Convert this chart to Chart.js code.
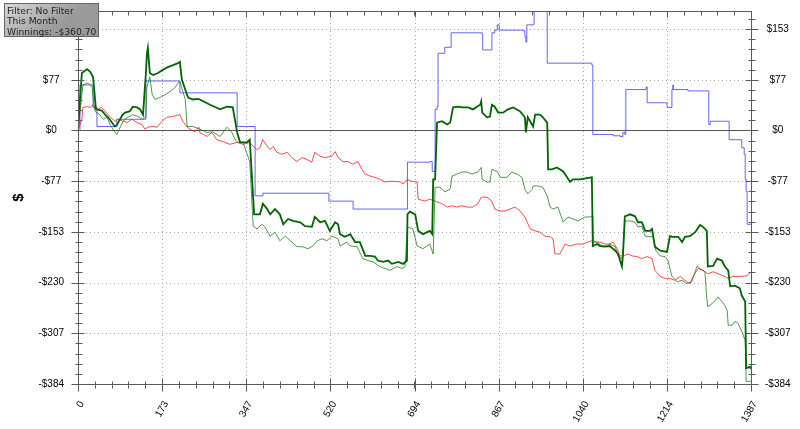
<!DOCTYPE html>
<html>
<head>
<meta charset="utf-8">
<title>Winnings graph</title>
<script src="https://cdn.jsdelivr.net/npm/chart.js@4.4.0/dist/chart.umd.min.js"></script>
<style>
  html, body { margin: 0; padding: 0; background: #fff; }
  #wrap { width: 800px; height: 429px; }
</style>
</head>
<body>
<div id="wrap"><canvas id="graph" width="800" height="429"></canvas></div>
<script>
// Hands played vs. $ won
const winHands = [0,4,8,19,25,31,33,37,49,56,62,70,76,80,91,97,107,113,122,128,134,140,142,144,148,155,165,175,185,196,
  206,210,214,221,227,237,247,251,272,293,307,319,328,334,348,354,363,375,381,390,396,406,416,423,433,443,458,468,482,488,
  499,509,519,530,536,540,550,561,571,581,592,602,612,618,629,639,647,660,670,678,679,684,695,701,711,725,730,732,736,740,
  750,761,767,773,783,793,804,814,829,831,833,843,849,853,859,866,876,886,897,911,921,923,927,938,942,952,958,967,969,977,
  987,1000,1008,1014,1020,1035,1049,1059,1061,1070,1076,1086,1096,1107,1113,1121,1123,1127,1138,1148,1154,1162,1169,1179,1183,1189,1200,1214,1220,1226,
  1237,1245,1251,1261,1272,1282,1288,1296,1298,1309,1317,1327,1333,1340,1344,1354,1364,1368,1375,1377,1385,1387];
const winValues = [0,45,87,93,89,81,65,32,30,24,20,12,6,8,23,27,29,36,35,32,24,87,116,125,87,84,87,92,96,99,
  102,104,77,62,50,47,48,47,39,32,36,35,-3,-18,-18,-14,-127,-127,-111,-119,-127,-119,-127,-142,-134,-137,-139,-145,-146,-131,
  -139,-137,-152,-139,-142,-157,-161,-157,-169,-169,-190,-190,-191,-197,-199,-197,-202,-199,-202,-197,-127,-123,-127,-152,-157,-152,-157,-74,-74,12,
  14,9,12,35,36,35,35,32,39,44,27,20,21,39,36,27,27,32,35,29,20,-3,20,6,24,24,20,12,-59,-59,
  -56,-62,-71,-78,-74,-74,-72,-71,-175,-172,-175,-176,-175,-182,-187,-206,-190,-130,-127,-130,-139,-139,-152,-152,-149,-176,-182,-184,-160,-161,
  -161,-169,-161,-160,-154,-143,-146,-152,-206,-205,-194,-197,-206,-212,-236,-235,-239,-250,-259,-360,-358,-361];

const thinGreenHands = [0,10,21,29,31,35,45,52,60,66,72,80,87,93,103,113,124,132,140,142,148,153,159,169,179,190,200,206,210,221,
  225,237,251,266,278,293,307,317,324,330,340,354,361,369,379,385,396,406,416,427,441,451,462,474,484,493,503,513,523,536,
  540,554,561,575,587,598,608,622,633,643,657,668,674,679,690,699,711,725,732,736,746,756,767,771,781,791,802,812,824,831,
  833,843,849,853,864,870,884,894,905,915,921,927,936,938,948,958,967,973,979,989,1000,1010,1020,1030,1045,1055,1061,1062,1070,1080,
  1090,1096,1107,1113,1121,1123,1127,1138,1148,1154,1162,1169,1179,1185,1191,1200,1210,1216,1224,1235,1245,1255,1265,1276,1282,1292,1296,1298,1307,1313,
  1319,1327,1333,1338,1340,1348,1354,1360,1368,1375,1377,1387];
const thinGreenValues = [0,69,72,66,51,29,24,17,20,9,2,-6,5,14,20,24,21,17,21,66,81,54,47,50,54,59,65,72,74,47,
  6,6,2,-3,-2,-9,5,-3,-14,-18,-18,-47,-145,-149,-142,-146,-160,-154,-167,-160,-169,-176,-176,-179,-175,-167,-164,-167,-160,-164,
  -175,-169,-175,-176,-194,-197,-199,-206,-209,-212,-206,-209,-206,-146,-149,-175,-179,-172,-187,-86,-86,-93,-89,-69,-66,-63,-63,-66,-63,-56,
  -74,-78,-78,-59,-62,-71,-71,-63,-66,-71,-89,-96,-89,-84,-84,-86,-99,-116,-119,-116,-139,-131,-134,-137,-131,-131,-130,-169,-169,-175,
  -175,-172,-176,-190,-194,-190,-137,-137,-139,-146,-145,-160,-161,-160,-182,-190,-191,-197,-221,-229,-227,-232,-229,-205,-209,-214,-255,-267,-262,-258,
  -252,-259,-265,-273,-295,-295,-289,-292,-304,-318,-380,-380];

const redHands = [0,8,10,19,25,31,39,49,56,66,76,82,93,101,111,122,132,138,144,153,163,173,183,194,204,210,216,225,231,241,
  249,251,266,276,286,299,313,328,340,354,361,369,375,381,390,396,402,410,420,431,441,451,462,472,482,488,499,509,523,530,
  536,546,556,567,577,585,592,602,612,622,633,643,653,664,670,678,688,699,701,715,725,736,750,761,771,781,791,802,814,824,
  831,843,853,859,870,880,890,901,911,921,932,942,952,962,973,979,983,993,1004,1014,1028,1041,1051,1059,1066,1076,1086,1096,1103,1111,
  1117,1123,1134,1142,1152,1162,1173,1183,1189,1200,1210,1220,1230,1241,1251,1261,1268,1278,1288,1298,1309,1319,1329,1340,1350,1364,1379,1387];
const redValues = [0,17,35,36,35,39,32,35,29,21,14,17,14,12,17,12,9,2,5,6,5,14,20,21,23,24,14,5,2,-2,
  5,-3,-9,-3,-14,-17,-21,-18,-21,-18,-24,-29,-26,-14,-24,-29,-24,-33,-36,-33,-41,-47,-41,-44,-48,-33,-39,-41,-39,-32,
  -41,-47,-47,-51,-47,-59,-66,-69,-71,-74,-78,-77,-77,-78,-81,-74,-77,-78,-104,-107,-104,-107,-111,-116,-114,-116,-114,-116,-116,-111,
  -101,-101,-107,-119,-122,-122,-119,-116,-122,-131,-149,-152,-154,-160,-161,-164,-187,-187,-172,-175,-172,-172,-169,-167,-169,-169,-172,-172,-169,-179,
  -190,-190,-187,-190,-191,-194,-191,-194,-212,-221,-224,-224,-227,-221,-227,-232,-221,-209,-212,-217,-214,-217,-220,-224,-221,-221,-220,-214];

// blue line is a step line: each value holds from its hand until the next one
const blueHands = [0,4,31,39,80,140,210,328,365,381,517,567,679,725,730,736,740,742,756,769,
  833,834,853,859,864,868,917,921,923,925,938,940,967,1059,1061,1103,1117,1123,1127,1129,
  1171,1173,1214,1224,1226,1227,1257,1300,1303,1342,1368,1373,1375,1377,1379,1387];
const blueValues = [0,69,35,6,17,75,57,6,-99,-95,-107,-119,-48,-47,-62,32,36,117,126,148,
  145,122,148,152,160,152,151,142,134,160,161,200,102,99,-6,-8,-9,-3,-6,62,
  66,42,35,62,69,62,60,9,14,-14,-26,-36,-74,-92,-142,-142];

// axes
const xTicks = [0, 173.375, 346.75, 520.125, 693.5, 866.875, 1040.25, 1213.625, 1387];
const xTickLabels = ['0', '173', '347', '520', '694', '867', '1040', '1214', '1387'];
const yTicks = [-384, -307.2, -230.4, -153.6, -76.8, 0, 76.8, 153.6];
const yTickLabels = ['-$384', '-$307', '-$230', '-$153', '-$77', '$0', '$77', '$153'];
const Y_MIN = -384;
const Y_MAX = 181;
const infoLines = ['Filter: No Filter', 'This Month', 'Winnings: -$360.70'];

const LABEL_FONT = { family: 'Liberation Sans, Arial, sans-serif', size: 10 };
const AXIS_COLOR = '#5a5a5a';

function toPoints(hands, values) {
  return hands.map((h, i) => ({ x: h, y: values[i] }));
}

function hline(ctx, x1, x2, y) {
  ctx.beginPath(); ctx.moveTo(x1, y); ctx.lineTo(x2, y); ctx.stroke();
}
function vline(ctx, x, y1, y2) {
  ctx.beginPath(); ctx.moveTo(x, y1); ctx.lineTo(x, y2); ctx.stroke();
}

// minor positions: 5 steps between major ticks, carried on to the scale ends
function minorValues(majors, min, max) {
  const step = (majors[1] - majors[0]) / 5;
  const out = [];
  for (let v = majors[0]; v <= max + 0.001; v += step) out.push(v);
  for (let v = majors[0] - step; v >= min - 0.001; v -= step) out.push(v);
  return out;
}

// grid, frame and tick marks drawn against the chart's own scales
const framePlugin = {
  id: 'frame',
  beforeDatasetsDraw(chart) {
    const { ctx, chartArea: a, scales } = chart;
    ctx.save();
    ctx.lineWidth = 1;
    ctx.strokeStyle = '#a8a8a8';
    ctx.setLineDash([1, 3]);
    xTicks.forEach(v => {
      const px = Math.round(scales.x.getPixelForValue(v)) + 0.5;
      vline(ctx, px, a.top, a.bottom);
    });
    yTicks.forEach(v => {
      const py = Math.round(scales.y.getPixelForValue(v)) + 0.5;
      hline(ctx, a.left, a.right, py);
    });
    ctx.setLineDash([]);
    ctx.strokeStyle = '#555';
    const zy = Math.round(scales.y.getPixelForValue(0)) + 0.5;
    hline(ctx, a.left, a.right, zy);
    ctx.restore();
  },
  afterDatasetsDraw(chart) {
    const { ctx, chartArea: a, scales } = chart;
    const L = Math.round(a.left) + 0.5, R = Math.round(a.right) + 0.5;
    const T = Math.round(a.top) + 0.5, B = Math.round(a.bottom) + 0.5;
    ctx.save();
    ctx.lineWidth = 1;
    ctx.strokeStyle = AXIS_COLOR;
    ctx.strokeRect(L, T, R - L, B - T);

    const xMinor = minorValues(xTicks, 0, 1387);
    xMinor.forEach(v => {
      const px = Math.round(scales.x.getPixelForValue(v)) + 0.5;
      vline(ctx, px, B - 3, B + 4);
      vline(ctx, px, T, T + 4);
    });
    xTicks.forEach(v => {
      const px = Math.round(scales.x.getPixelForValue(v)) + 0.5;
      vline(ctx, px, B - 6, B + 7);
      vline(ctx, px, T, T + 6);
    });

    const yMinor = minorValues(yTicks, Y_MIN, Y_MAX);
    yMinor.forEach(v => {
      const py = Math.round(scales.y.getPixelForValue(v)) + 0.5;
      hline(ctx, L - 3, L + 4, py);
      hline(ctx, R - 3, R + 4, py);
    });
    yTicks.forEach(v => {
      const py = Math.round(scales.y.getPixelForValue(v)) + 0.5;
      hline(ctx, L - 7, L + 6, py);
      hline(ctx, R - 6, R + 7, py);
    });
    ctx.restore();
  },
  afterDraw(chart) {
    // filter / winnings info box in the top-left corner
    const { ctx } = chart;
    const bx = 4.5, by = 3.5, bw = 94, bh = 33;
    ctx.save();
    const g = ctx.createLinearGradient(bx, by, bx + bw * 0.3, by + bh * 1.2);
    g.addColorStop(0, '#dadada');
    g.addColorStop(1, '#9a9a9a');
    ctx.fillStyle = g;
    ctx.fillRect(bx, by, bw, bh);
    ctx.strokeStyle = '#666';
    ctx.lineWidth = 1;
    ctx.strokeRect(bx, by, bw, bh);
    ctx.fillStyle = '#222';
    ctx.font = '9.2px "DejaVu Sans", Verdana, sans-serif';
    ctx.textAlign = 'left';
    ctx.textBaseline = 'alphabetic';
    infoLines.forEach((t, i) => ctx.fillText(t, 7, 13.5 + i * 10.5));
    ctx.restore();
  }
};

function yScale(position, withTitle) {
  return {
    type: 'linear',
    position: position,
    min: Y_MIN,
    max: Y_MAX,
    afterBuildTicks: scale => { scale.ticks = yTicks.map(v => ({ value: v })); },
    afterFit: scale => {
      scale.width = position === 'left' ? 78 : 49;
      scale.paddingTop = 0;
      scale.paddingBottom = 0;
    },
    grid: { display: false, drawTicks: false },
    border: { display: false },
    title: {
      display: withTitle,
      text: '$',
      color: '#000',
      font: { family: 'Liberation Sans, Arial, sans-serif', size: 15, weight: 'bold' },
      padding: { top: 10, bottom: 0 }
    },
    ticks: {
      autoSkip: false,
      crossAlign: 'center',
      padding: 14,
      color: '#000',
      font: LABEL_FONT,
      callback: (value, index) => yTickLabels[index]
    }
  };
}

new Chart(document.getElementById('graph'), {
  type: 'line',
  data: {
    datasets: [
      {
        label: 'Winnings',
        data: toPoints(winHands, winValues),
        borderColor: '#006400',
        borderWidth: 1.8
      },
      {
        label: 'Thin green',
        data: toPoints(thinGreenHands, thinGreenValues),
        borderColor: 'rgba(20, 120, 20, 0.75)',
        borderWidth: 1
      },
      {
        label: 'Red',
        data: toPoints(redHands, redValues),
        borderColor: 'rgba(255, 30, 30, 0.8)',
        borderWidth: 1
      },
      {
        label: 'Blue',
        data: toPoints(blueHands, blueValues),
        borderColor: 'rgba(50, 50, 255, 0.75)',
        borderWidth: 1,
        stepped: 'before'
      }
    ]
  },
  options: {
    responsive: false,
    devicePixelRatio: 1,
    animation: false,
    layout: { padding: { top: 11, left: 0, right: 0, bottom: 0 } },
    elements: {
      point: { radius: 0 },
      line: { tension: 0, fill: false }
    },
    plugins: {
      legend: { display: false },
      tooltip: { enabled: false }
    },
    scales: {
      x: {
        type: 'linear',
        min: 0,
        max: 1387,
        afterBuildTicks: scale => { scale.ticks = xTicks.map(v => ({ value: v })); },
        afterFit: scale => {
          scale.height = 45;
          scale.paddingLeft = 0;
          scale.paddingRight = 0;
        },
        grid: { display: false, drawTicks: false },
        border: { display: false },
        ticks: {
          autoSkip: false,
          minRotation: 60,
          maxRotation: 60,
          padding: 15,
          labelOffset: 4,
          color: '#000',
          font: LABEL_FONT,
          callback: (value, index) => xTickLabels[index]
        }
      },
      y: yScale('left', true),
      y2: yScale('right', false)
    }
  },
  plugins: [framePlugin]
});
</script>
</body>
</html>
